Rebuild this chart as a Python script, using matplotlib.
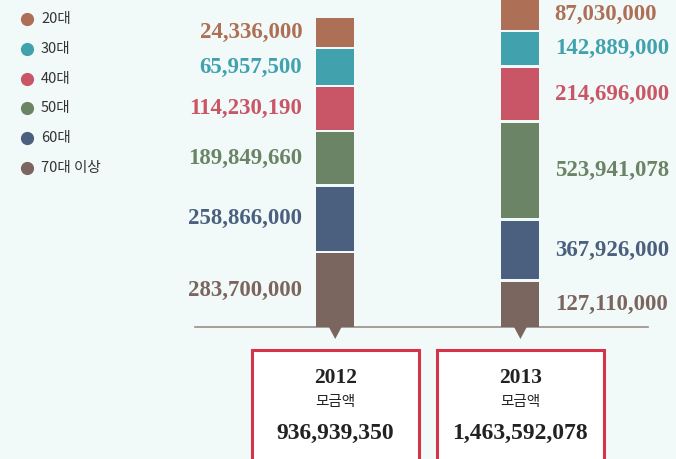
import matplotlib.pyplot as plt
from matplotlib.patches import Rectangle, Polygon

plt.rcParams['font.family'] = ['Noto Sans CJK KR', 'DejaVu Sans']

years = ["2012", "2013"]
ages = ["20대", "30대", "40대", "50대", "60대", "70대 이상"]
colors = ["#ad6f55", "#41a2ae", "#c95667", "#6b8466", "#4a607e", "#7b665f"]

# amounts per age group (20대 -> 70대 이상)
amt_2012 = [24336000, 65957500, 114230190, 189849660, 258866000, 283700000]
amt_2013 = [87030000, 142889000, 214696000, 523941078, 367926000, 127110000]

# segment heights as drawn in the infographic (not to scale with the amounts)
seg_2012 = [30, 38, 45, 54.3, 66.7, 75]
seg_2013 = [50, 35.5, 55, 98, 61, 46.5]

bg = "#f2faf9"
fig = plt.figure(figsize=(6.76, 4.59), dpi=100, facecolor=bg)
ax = fig.add_axes([0, 0, 1, 1])
ax.set_facecolor(bg)
ax.set_xlim(-1.81, 1.84)
ax.set_ylim(-132, 327)
ax.axis("off")

bar_w = 0.205
gap = 2.6
top = ax.get_ylim()[1]
n = len(ages)

# baseline
ax.axhline(0, xmin=195 / 676, xmax=648 / 676, color="#9b8e89", lw=1.2, zorder=1)

for xi, amts, segs in [(0, amt_2012, seg_2012), (1, amt_2013, seg_2013)]:
    bottom = 0
    # stack from 70대 이상 at the bottom up to 20대, white gaps between pieces
    for i in range(n - 1, -1, -1):
        lo = bottom if i == n - 1 else bottom + gap / 2
        hi = bottom + segs[i] if i == 0 else bottom + segs[i] - gap / 2
        ax.bar(xi, hi - lo, bottom=lo, width=bar_w, color=colors[i],
               linewidth=0, zorder=3)
        yc = (lo + min(hi, top)) / 2
        label = f"{amts[i]:,}"
        if xi == 0:
            ax.annotate(label, (xi - bar_w / 2, yc), xytext=(-10, 0),
                        textcoords="offset points", ha="right", va="center",
                        color=colors[i], fontsize=16.5, fontweight="bold",
                        family="Liberation Serif")
        else:
            ax.annotate(label, (xi + bar_w / 2, yc), xytext=(11, 0),
                        textcoords="offset points", ha="left", va="center",
                        color=colors[i], fontsize=16.5, fontweight="bold",
                        family="Liberation Serif")
        bottom += segs[i]

    # pointer triangle under the bar
    ax.add_patch(Polygon([[xi - 0.036, 0.5], [xi + 0.036, 0.5], [xi, -12]],
                         closed=True, color=colors[-1], lw=0, zorder=3))

    # total box
    ax.add_patch(Rectangle((xi - 0.452, -150), 0.904, 127, facecolor="white",
                           edgecolor="#d6334b", lw=2.2, zorder=2))
    ax.text(xi, -51, years[xi], ha="center", va="center", fontsize=15.5,
            fontweight="bold", family="Liberation Serif", color="#222222")
    ax.text(xi, -75, "모금액", ha="center", va="center", fontsize=10.5,
            fontweight="medium", color="#222222")
    ax.text(xi, -106, f"{sum(amts):,}", ha="center", va="center", fontsize=17,
            fontweight="bold", family="Liberation Serif", color="#222222")

# legend
for i, (age, c) in enumerate(zip(ages, colors)):
    yf = 1 - (19 + 29.8 * i) / 459
    ax.plot([27 / 676], [yf], "o", ms=8.5, color=c, transform=ax.transAxes,
            clip_on=False)
    ax.text(41 / 676, yf, age, transform=ax.transAxes, ha="left", va="center",
            fontsize=10.5, fontweight="medium", color="#333333")

fig.savefig("out.png", dpi=100, facecolor=bg)
